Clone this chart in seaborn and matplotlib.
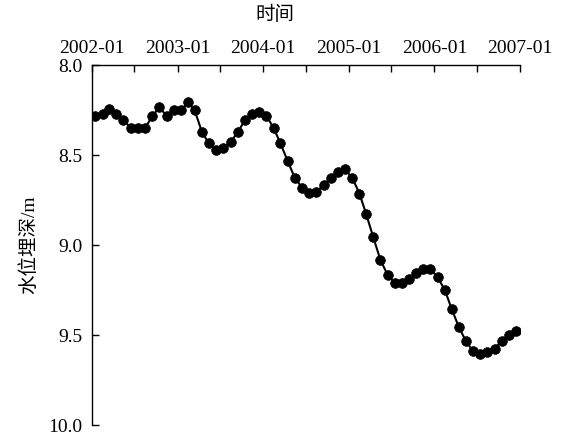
import matplotlib
matplotlib.use('Agg')
import matplotlib.pyplot as plt
import seaborn as sns
import pandas as pd

# Monthly groundwater depth (m), 2002-01 .. 2006-12
start_month = '2002-01-01'
n_months = 60
depth = [
    8.286, 8.271, 8.245, 8.271, 8.304, 8.350, 8.350, 8.350, 8.286, 8.234, 8.282, 8.252,
    8.252, 8.208, 8.252, 8.372, 8.436, 8.473, 8.460, 8.429, 8.372, 8.308, 8.272, 8.260,
    8.282, 8.350, 8.436, 8.534, 8.626, 8.681, 8.713, 8.705, 8.668, 8.626, 8.593, 8.580,
    8.626, 8.714, 8.825, 8.957, 9.081, 9.166, 9.210, 9.210, 9.188, 9.155, 9.133, 9.133,
    9.180, 9.252, 9.354, 9.455, 9.534, 9.590, 9.608, 9.597, 9.575, 9.534, 9.501, 9.477,
]
y_ticks = [8.0, 8.5, 9.0, 9.5, 10.0]
x_label = '时间'
y_label = '水位埋深/m'

months = pd.date_range(start_month, periods=n_months, freq='MS') + pd.Timedelta(days=14)
df = pd.DataFrame({'date': months, 'depth': depth})

sns.set_style('ticks')
plt.rcParams['font.family'] = ['Liberation Serif', 'Noto Sans CJK SC', 'DejaVu Sans']
plt.rcParams['axes.unicode_minus'] = False

fig = plt.figure(figsize=(5.63, 4.36), dpi=100)
ax = fig.add_axes([92 / 563, 11 / 436, 428 / 563, 360 / 436])

sns.lineplot(data=df, x='date', y='depth', ax=ax, color='black', marker='o',
             markersize=7.0, markeredgecolor='black', markeredgewidth=0.5, linewidth=1.5)

ax.set_ylim(10.0, 8.0)
ax.set_xlim(pd.Timestamp('2002-01-01'), pd.Timestamp('2007-01-01'))

ax.xaxis.tick_top()
ax.xaxis.set_label_position('top')
xt = pd.date_range('2002-01-01', '2007-01-01', freq='6MS')
ax.set_xticks(xt)
ax.set_xticklabels([d.strftime('%Y-%m') if d.month == 1 else '' for d in xt])
ax.set_yticks(y_ticks)
ax.set_yticklabels([f'{v:.1f}' for v in y_ticks])

for s in ['right', 'bottom']:
    ax.spines[s].set_visible(False)
for s in ['top', 'left']:
    ax.spines[s].set_visible(True)
    ax.spines[s].set_color('black')
    ax.spines[s].set_linewidth(1.0)

ax.tick_params(axis='both', direction='in', length=5, width=1, colors='black', labelsize=14)
ax.tick_params(axis='y', pad=7)
ax.tick_params(axis='x', pad=6)
for lab in ax.get_yticklabels():
    lab.set_verticalalignment('center_baseline')

ax.set_xlabel(x_label, fontsize=14, color='black')
ax.xaxis.set_label_coords((275 - 92) / 428, 1.125)
ax.set_ylabel(y_label, fontsize=14, color='black')
ax.yaxis.set_label_coords(-0.125, 0.5)

fig.savefig('out.png', dpi=100)
